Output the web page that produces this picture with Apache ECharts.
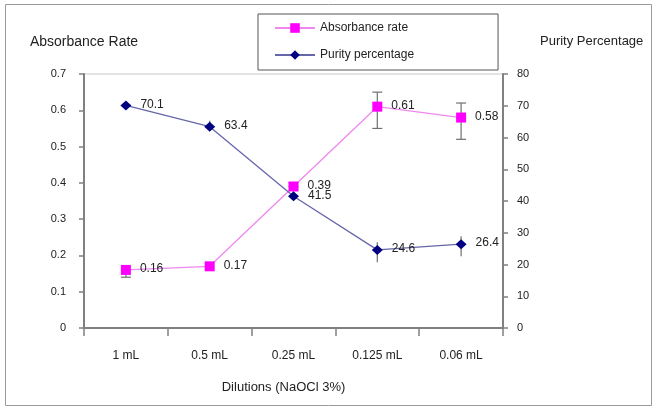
<!DOCTYPE html>
<html>
<head>
<meta charset="utf-8">
<script src="https://cdn.jsdelivr.net/npm/echarts@6/dist/echarts.min.js"></script>
<style>
  html, body { margin: 0; padding: 0; background: #fff; }
  #chart { width: 653px; height: 407px; }
</style>
</head>
<body>
<div id="chart"></div>
<script>
const categories = ["1 mL", "0.5 mL", "0.25 mL", "0.125 mL", "0.06 mL"];
const absorbance = [0.16, 0.17, 0.39, 0.61, 0.58];
const purity = [70.1, 63.4, 41.5, 24.6, 26.4];
// error bar ends
const absLow = [0.14, 0.165, 0.39, 0.55, 0.52];
const absHigh = [0.16, 0.17, 0.40, 0.65, 0.62];
const purLow = [70.1, 63.4, 41.5, 20.7, 22.6];
const purHigh = [70.1, 65.3, 41.5, 27.0, 28.9];

(function () {
  const myChart = echarts.init(document.getElementById("chart"));
  const font = "Liberation Sans, Arial, sans-serif";

  function errorData(low, high) {
    return low.map(function (v, i) { return [i, v, high[i]]; });
  }

  function errorRender(cap) {
    return function (params, api) {
      const lo = api.coord([api.value(0), api.value(1)]);
      const hi = api.coord([api.value(0), api.value(2)]);
      const style = { stroke: "#707070", lineWidth: 1.2 };
      const children = [
        { type: "line", shape: { x1: lo[0], y1: lo[1], x2: hi[0], y2: hi[1] }, style: style }
      ];
      if (cap && Math.abs(lo[1] - hi[1]) > 2) {
        children.push({ type: "line", shape: { x1: lo[0] - cap, y1: lo[1], x2: lo[0] + cap, y2: lo[1] }, style: style });
        children.push({ type: "line", shape: { x1: hi[0] - cap, y1: hi[1], x2: hi[0] + cap, y2: hi[1] }, style: style });
      }
      return { type: "group", children: children };
    };
  }

  const option = {
    animation: false,
    textStyle: { fontFamily: font },
    graphic: [
      {
        type: "rect",
        shape: { x: 5.5, y: 4.5, width: 646, height: 401 },
        style: { fill: "none", stroke: "#9a9a9a", lineWidth: 1 }
      }
    ],
    legend: {
      left: 258,
      top: 14,
      orient: "vertical",
      itemWidth: 40,
      itemHeight: 12,
      itemGap: 15,
      padding: [8, 84, 9, 16],
      borderColor: "#555",
      borderWidth: 1,
      textStyle: { fontSize: 12, color: "#222", fontFamily: font },
      data: ["Absorbance rate", "Purity percentage"]
    },
    grid: {
      left: 84,
      right: 150,
      top: 74,
      bottom: 79,
      show: true,
      borderColor: "#c8c8c8",
      borderWidth: 1
    },
    xAxis: {
      type: "category",
      data: categories,
      boundaryGap: true,
      name: "Dilutions (NaOCl 3%)",
      nameLocation: "middle",
      nameGap: 53,
      nameTextStyle: { fontSize: 13, color: "#222", padding: [0, 20, 0, 0] },
      axisLine: { lineStyle: { color: "#808080", width: 2 } },
      axisTick: { show: true, length: 8, lineStyle: { color: "#808080", width: 1.5 } },
      axisLabel: { fontSize: 12, color: "#222", margin: 22 },
      splitLine: { show: false }
    },
    yAxis: [
      {
        type: "value",
        min: 0,
        max: 0.7,
        interval: 0.1,
        name: "Absorbance Rate",
        nameLocation: "end",
        nameGap: 25,
        nameTextStyle: { fontSize: 14, color: "#222" },
        axisLine: { show: true, lineStyle: { color: "#808080", width: 2 } },
        axisTick: { show: true, length: 5, lineStyle: { color: "#808080", width: 1.5 } },
        axisLabel: { fontSize: 11, color: "#222", margin: 18 },
        splitLine: { show: false }
      },
      {
        type: "value",
        min: 0,
        max: 80,
        interval: 10,
        name: "Purity Percentage",
        nameLocation: "end",
        nameGap: 26,
        nameTextStyle: { fontSize: 13, color: "#222", align: "left", padding: [0, 0, 0, 37] },
        axisLine: { show: true, lineStyle: { color: "#808080", width: 2 } },
        axisTick: { show: true, length: 5, lineStyle: { color: "#808080", width: 1.5 } },
        axisLabel: { fontSize: 11, color: "#222", margin: 14 },
        splitLine: { show: false }
      }
    ],
    series: [
      {
        type: "custom",
        name: "absErr",
        yAxisIndex: 0,
        z: 1,
        renderItem: errorRender(5),
        encode: { x: 0, y: [1, 2] },
        data: errorData(absLow, absHigh)
      },
      {
        type: "custom",
        name: "purErr",
        yAxisIndex: 1,
        z: 1,
        renderItem: errorRender(0),
        encode: { x: 0, y: [1, 2] },
        data: errorData(purLow, purHigh)
      },
      {
        name: "Absorbance rate",
        type: "line",
        yAxisIndex: 0,
        z: 3,
        data: absorbance,
        symbol: "rect",
        symbolSize: 10,
        itemStyle: { color: "#ff00ff" },
        lineStyle: { color: "#ee88ee", width: 1.3 },
        label: {
          show: true,
          position: "right",
          distance: 9,
          offset: [0, -1],
          fontSize: 12,
          color: "#222"
        }
      },
      {
        name: "Purity percentage",
        type: "line",
        yAxisIndex: 1,
        z: 4,
        data: purity,
        symbol: "diamond",
        symbolSize: [11, 10],
        itemStyle: { color: "#000080" },
        lineStyle: { color: "#6666aa", width: 1.3 },
        label: {
          show: true,
          position: "right",
          distance: 9,
          offset: [0, -1],
          fontSize: 12,
          color: "#222"
        }
      }
    ]
  };

  myChart.setOption(option);

  window.addEventListener("resize", function () {
    myChart.resize();
  });
})();
</script>
</body>
</html>
